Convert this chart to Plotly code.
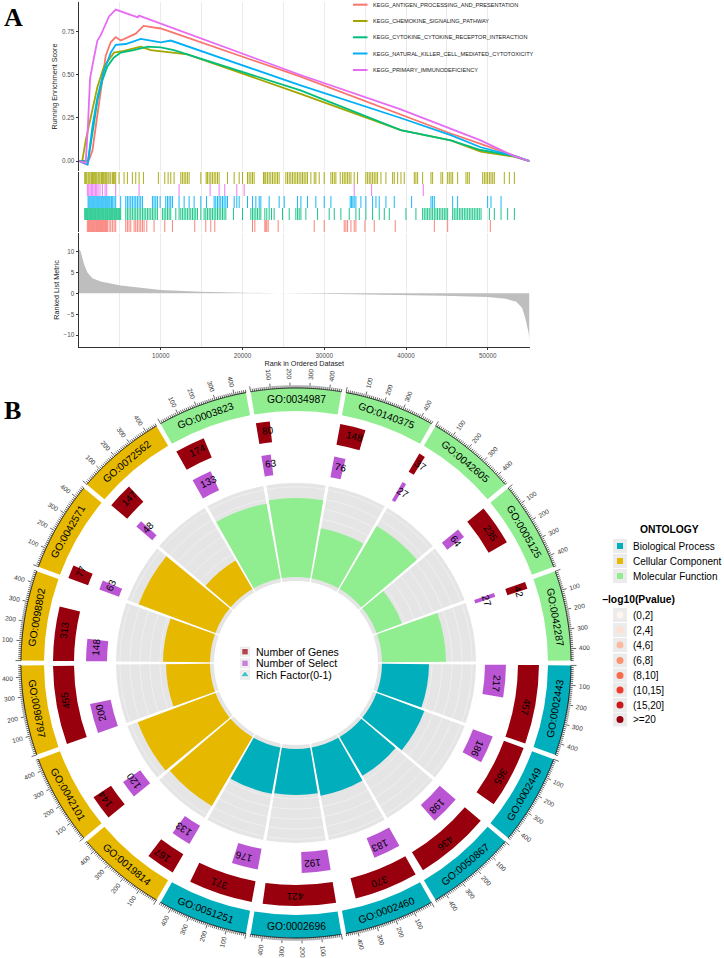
import numpy as np
import plotly.graph_objects as go

W, H = 724, 958
SANS = "Liberation Sans, Arial, Helvetica, sans-serif"
SERIF = "Liberation Serif, Times New Roman, serif"

# ======================= Panel A : GSEA data =======================
set_labels = ["KEGG_ANTIGEN_PROCESSING_AND_PRESENTATION",
              "KEGG_CHEMOKINE_SIGNALING_PATHWAY",
              "KEGG_CYTOKINE_CYTOKINE_RECEPTOR_INTERACTION",
              "KEGG_NATURAL_KILLER_CELL_MEDIATED_CYTOTOXICITY",
              "KEGG_PRIMARY_IMMUNODEFICIENCY"]
set_colors = ["#F8766D", "#A3A500", "#00BF7D", "#00B0F6", "#E76BF3"]

antigen_es_rank = [0, 1000, 1640, 2040, 2650, 3260, 3880, 4490, 5100, 6120, 6940, 7900, 8800, 10000,
                   27100, 39350, 45470, 49130, 53160, 55100]
antigen_es_value = [0, -0.02, 0.06, 0.20, 0.39, 0.61, 0.69, 0.72, 0.70, 0.72, 0.74, 0.785, 0.78, 0.77,
                    0.49, 0.27, 0.16, 0.10, 0.03, 0.0]
chemokine_es_rank = [0, 400, 820, 1430, 2250, 3060, 4280, 5500, 7550, 8770, 13260, 27100, 39350, 45470,
                     49130, 53160, 55100]
chemokine_es_value = [0, 0.0, 0.12, 0.26, 0.43, 0.55, 0.63, 0.64, 0.665, 0.645, 0.62, 0.39, 0.18, 0.12,
                      0.055, 0.025, 0.0]
cytokine_es_rank = [0, 1100, 1640, 2250, 2860, 3470, 4240, 5100, 6700, 8400, 10000, 11600, 27100, 39350,
                    45470, 49130, 53160, 55100]
cytokine_es_value = [0, 0.0, 0.16, 0.35, 0.47, 0.55, 0.60, 0.63, 0.645, 0.665, 0.66, 0.645, 0.41, 0.18,
                     0.12, 0.064, 0.03, 0.0]
nk_es_rank = [0, 1060, 1640, 2250, 3020, 3880, 4490, 5720, 7550, 10000, 11220, 27100, 39350, 45470,
              49130, 53160, 55100]
nk_es_value = [0, -0.02, 0.20, 0.37, 0.52, 0.63, 0.675, 0.68, 0.71, 0.69, 0.70, 0.44, 0.25, 0.15,
               0.08, 0.03, 0.0]
primary_es_rank = [0, 820, 1100, 1350, 1830, 2250, 2650, 3260, 3670, 4490, 7200, 7340, 27100, 39350,
                   49130, 53160, 55100]
primary_es_value = [0, -0.01, 0.21, 0.48, 0.60, 0.70, 0.73, 0.79, 0.84, 0.88, 0.835, 0.845, 0.50, 0.30,
                    0.12, 0.03, 0.0]

hits_antigen = [1020, 1150, 1270, 1390, 1510, 1640, 1760, 1880, 2000, 2130, 2250, 2370, 2490, 2620, 2740,
                2860, 2980, 3100, 3230, 3350, 3470, 3680, 3880, 4080, 4290, 4490, 5720, 5920, 6120, 6330,
                6740, 6940, 7140, 7350, 7550, 7760, 7960, 8290, 9180, 10490, 11430, 14160, 15510, 16120,
                16610, 21220, 21510, 22730, 22850, 22970, 23140, 24360, 28770, 29990, 32440, 32640, 32850,
                33260, 33660, 33870, 34970, 36110, 38680, 43460, 45090, 50310]
hits_chemokine = [700, 820, 940, 1110, 1230, 1350, 1510, 1640, 1760, 1920, 2040, 2170, 2330, 2450, 2570,
                  2740, 2860, 2980, 3150, 3270, 3390, 3550, 3680, 3880, 4080, 4210, 4370, 4490, 4900, 5510,
                  5920, 6530, 6940, 7350, 7880, 9710, 10490, 10900, 11220, 11630, 12450, 12650, 12860,
                  13060, 13260, 13470, 14900, 15550, 15710, 15920, 16120, 16320, 16530, 16730, 16940,
                  17140, 18160, 18980, 19590, 20000, 20610, 20810, 21020, 21220, 21420, 22570, 22730,
                  22850, 23060, 23260, 23460, 23670, 23870, 24080, 24280, 24480, 25300, 25500, 25710,
                  25910, 26120, 26320, 26520, 26730, 26930, 27140, 27340, 27540, 27750, 27950, 28360,
                  28770, 28970, 29380, 29990, 30810, 31010, 31220, 31420, 31950, 32240, 32440, 32640,
                  32850, 33050, 33260, 33660, 34070, 35090, 35300, 35500, 35700, 35910, 36110, 36320,
                  36520, 36930, 37540, 38360, 38560, 38970, 39380, 39780, 41010, 41210, 41420, 42030,
                  43050, 43250, 44270, 44480, 45090, 45290, 45500, 45700, 46310, 47330, 47540, 47740,
                  49370, 49580, 49780, 49980, 50190, 50390, 50600, 50800, 52020, 52640, 53250]
hits_cytokine = [700, 820, 940, 1060, 1190, 1310, 1430, 1550, 1680, 1800, 1920, 2040, 2170, 2290, 2410,
                 2530, 2660, 2780, 2900, 3020, 3150, 3270, 3390, 3510, 3640, 3760, 3880, 4000, 4120, 4250,
                 4370, 4490, 4610, 4740, 4860, 4980, 5100, 5720, 5920, 6120, 6330, 6530, 6740, 6940, 7140,
                 7350, 7550, 7760, 7960, 8160, 8370, 8570, 8780, 8980, 9180, 9390, 9590, 10200, 10410,
                 10610, 10820, 11020, 11220, 11840, 12240, 12450, 12650, 12860, 13060, 13260, 13470,
                 13670, 13880, 14080, 14280, 14490, 14900, 15300, 15510, 15710, 15920, 16120, 16320,
                 16530, 16730, 16940, 17140, 17340, 17550, 17750, 17960, 18890, 20000, 21020, 21220,
                 21420, 21630, 21830, 22040, 22240, 22730, 22970, 23260, 23550, 23870, 24890, 25710,
                 26520, 26730, 26930, 27140, 27750, 29180, 30600, 31220, 32030, 33050, 33870, 34280,
                 35090, 35910, 36720, 37340, 37950, 39990, 41210, 42030, 42230, 42440, 42640, 42840,
                 43050, 43250, 43460, 43660, 43860, 44070, 44270, 44480, 44680, 44880, 45090, 45700,
                 45900, 46110, 46310, 46520, 46720, 46920, 47130, 47330, 47540, 47740, 47940, 48150,
                 48350, 48560, 48760, 48960, 49170, 50190, 50800, 51620, 52430, 53250]
hits_nk = [1110, 1230, 1350, 1470, 1600, 1720, 1840, 1960, 2090, 2210, 2330, 2450, 2570, 2700, 2820, 2940,
           3060, 3190, 3310, 3430, 3550, 3680, 3800, 3960, 4120, 4290, 4490, 5100, 5720, 5920, 6120, 6330,
           6530, 6740, 6940, 7140, 7350, 7550, 7760, 8980, 9180, 9390, 9590, 9920, 10610, 10820, 11020,
           11220, 11430, 12240, 12860, 13470, 14080, 14900, 15590, 16530, 16730, 16940, 17140, 17340,
           17550, 17750, 17960, 18160, 18980, 19300, 19590, 20610, 21220, 21630, 22040, 22240, 23260,
           24480, 25100, 26730, 27140, 27950, 28970, 29990, 30810, 33170, 33340, 33500, 33660, 33870,
           34480, 35090, 35910, 36320, 36720, 37540, 38560, 40680, 43050, 43250, 43460, 45700, 46310,
           49980, 50390, 51620]
hits_primary = [1020, 1190, 1350, 1510, 1680, 1840, 2000, 2170, 2330, 2570, 2860, 3190, 3390, 4490, 7350,
                12240, 16040, 17140, 17830, 19300, 20200, 33660, 35790, 42110]

metric_rank = [1, 200, 610, 1030, 1640, 2650, 5100, 10000, 14900, 19800, 24300, 29550, 38500, 44600,
               50000, 52200, 53500, 54200, 54600, 55000, 55100]
metric_value = [10.6, 10.0, 7.0, 5.0, 3.6, 2.8, 1.9, 0.8, 0.4, 0.15, 0.0, -0.12, -0.35, -0.6,
                -0.9, -1.3, -2.0, -3.5, -6.0, -9.5, -11.5]
rank_ticks = [10000, 20000, 30000, 40000, 50000]
es_ticks = [0, 0.25, 0.5, 0.75]
metric_ticks = [-10, -5, 0, 5, 10]

# ======================= Panel B : GO circle data =======================
go_terms = ["GO:0002443", "GO:0002449", "GO:0050867", "GO:0002460", "GO:0002696", "GO:0051251",
            "GO:0019814", "GO:0042101", "GO:0098797", "GO:0098802", "GO:0042571", "GO:0072562",
            "GO:0003823", "GO:0034987", "GO:0140375", "GO:0042605", "GO:0005125", "GO:0042287"]
go_ontology = ["Biological Process"] * 6 + ["Cellular Component"] * 6 + ["Molecular Function"] * 6
go_genes = [457, 365, 436, 370, 421, 371, 167, 144, 455, 313, 77, 147, 174, 80, 148, 37, 235, 42]
go_select = [217, 186, 198, 183, 192, 176, 133, 120, 200, 148, 63, 48, 133, 63, 76, 27, 64, 27]
go_rich = [0.47, 0.51, 0.45, 0.49, 0.46, 0.47, 0.80, 0.83, 0.44, 0.47, 0.82, 0.33,
           0.76, 0.79, 0.51, 0.73, 0.27, 0.64]
go_pclass = [">=20"] * 18
ontology_levels = ["Biological Process", "Cellular Component", "Molecular Function"]
ontology_colors = ["#00AFBB", "#E7B800", "#90EE90"]
pvalue_levels = ["(0,2]", "(2,4]", "(4,6]", "(6,8]", "(8,10]", "(10,15]", "(15,20]", ">=20"]
pvalue_colors = ["#FFF5F0", "#FEE0D2", "#FCBBA1", "#FC9272", "#FB6A4A", "#EF3B2C", "#CB181D", "#99000D"]
axis_major = [100, 200, 300, 400]
rich_grid = [0.1, 0.2, 0.3, 0.4, 0.5, 0.6, 0.7, 0.8, 0.9]
center_legend = ["Number of Genes", "Number of Select", "Rich Factor(0-1)"]

# ======================= helpers =======================
def px(x):
    return x / W


def py(y):
    return 1 - y / H


fig = go.Figure()
annotations = []
shapes = []

# ======================= Panel A drawing =======================
XMAX = 55100
XDOM = [px(79), px(529.5)]
es_series = [(antigen_es_rank, antigen_es_value), (chemokine_es_rank, chemokine_es_value),
             (cytokine_es_rank, cytokine_es_value), (nk_es_rank, nk_es_value),
             (primary_es_rank, primary_es_value)]
for (rk, val), col in zip(es_series, set_colors):
    fig.add_trace(go.Scatter(x=rk, y=val, mode="lines", line=dict(color=col, width=1.8),
                             xaxis="x", yaxis="y", showlegend=False, hoverinfo="skip"))

hit_sets = [hits_antigen, hits_chemokine, hits_cytokine, hits_nk, hits_primary]
hit_slot = [0, 4, 1, 2, 3]
for hits, col, slot in zip(hit_sets, set_colors, hit_slot):
    xs, ys = [], []
    for h in hits:
        xs += [h, h, None]
        ys += [slot, slot + 1, None]
    fig.add_trace(go.Scatter(x=xs, y=ys, mode="lines", line=dict(color=col, width=0.9),
                             xaxis="x2", yaxis="y2", showlegend=False, hoverinfo="skip"))

fig.add_trace(go.Scatter(x=metric_rank, y=metric_value, mode="lines", fill="tozeroy",
                         fillcolor="#BEBEBE", line=dict(color="#BEBEBE", width=0),
                         xaxis="x3", yaxis="y3", showlegend=False, hoverinfo="skip"))

grid = dict(showgrid=True, gridcolor="#EBEBEB", gridwidth=0.8, zeroline=False)
axis_line = dict(showline=True, linecolor="#333333", linewidth=0.9)
tickfont = dict(size=6.3, color="#4D4D4D", family=SANS)

layout_axes = dict(
    xaxis=dict(domain=XDOM, range=[0, XMAX], anchor="y", showticklabels=False, ticks="",
               dtick=5000, tick0=0, showline=False, **grid),
    yaxis=dict(domain=[py(171), py(2)], range=[-0.058, 0.924], anchor="x", tickmode="array",
               tickvals=es_ticks, ticktext=["%.2f" % v for v in es_ticks], ticks="outside",
               ticklen=2.5, tickwidth=0.7, tickcolor="#333333", showgrid=False, zeroline=False,
               tickfont=tickfont, **axis_line,
               title=dict(text="Running Enrichment Score", standoff=3,
                          font=dict(size=7.2, color="#1A1A1A", family=SANS))),
    xaxis2=dict(domain=XDOM, range=[0, XMAX], anchor="y2", showticklabels=False, ticks="",
                dtick=5000, tick0=0, showline=False, **grid),
    yaxis2=dict(domain=[py(232), py(172)], range=[0, 5], anchor="x2", showticklabels=False,
                ticks="", showgrid=False, zeroline=False, **axis_line),
    xaxis3=dict(domain=XDOM, range=[0, XMAX], anchor="y3", tickmode="array", tickvals=rank_ticks,
                ticktext=[str(v) for v in rank_ticks], ticks="outside", ticklen=2.5, tickwidth=0.7,
                tickcolor="#333333", tickfont=tickfont, **axis_line, **grid,
                minor=dict(tickvals=[5000, 15000, 25000, 35000, 45000, 55000], showgrid=True,
                           gridcolor="#EBEBEB", gridwidth=0.8, ticks=""),
                title=dict(text="Rank in Ordered Dataset", standoff=1,
                           font=dict(size=7.2, color="#1A1A1A", family=SANS))),
    yaxis3=dict(domain=[py(347), py(233)], range=[-12.8, 14.4], anchor="x3", tickmode="array",
                tickvals=metric_ticks, ticktext=[str(v).replace("-", "\u2212") for v in metric_ticks],
                ticks="outside", ticklen=2.5, tickwidth=0.7, tickcolor="#333333", showgrid=False,
                zeroline=False, tickfont=tickfont, **axis_line,
                title=dict(text="Ranked List Metric", standoff=3,
                           font=dict(size=7.2, color="#1A1A1A", family=SANS))),
)

# legend inside ES panel
leg_rows = [4.7, 21, 37.3, 53.5, 70]
for lab, col, yy in zip(set_labels, set_colors, leg_rows):
    shapes.append(dict(type="line", xref="paper", yref="paper", x0=px(353), x1=px(367.5),
                       y0=py(yy), y1=py(yy), line=dict(color=col, width=2)))
    annotations.append(dict(text=lab, xref="paper", yref="paper", x=px(370.5), y=py(yy),
                            xanchor="left", yanchor="middle", showarrow=False,
                            font=dict(size=5.6, color="#1A1A1A", family=SANS)))

annotations.append(dict(text="<b>A</b>", xref="paper", yref="paper", x=px(2), y=py(18),
                        xanchor="left", yanchor="middle", showarrow=False,
                        font=dict(size=26, color="black", family=SERIF)))
annotations.append(dict(text="<b>B</b>", xref="paper", yref="paper", x=px(2), y=py(410),
                        xanchor="left", yanchor="middle", showarrow=False,
                        font=dict(size=26, color="black", family=SERIF)))

# ======================= Panel B drawing =======================
CX, CY, RMAX = 296, 663, 292
N = len(go_terms)
SECTOR = 360.0 / N
START0 = 90.0
GAP = 1.0
SPAN = SECTOR - GAP
XLIM = 460.0
K = SPAN / XLIM
R_BAND = (252, 275)
R_GENE = (222, 243)
R_SEL = (189, 210)
R_BG = (82, 180)
R_BAR0 = 86
RF_UNIT = 100

onto_col = dict(zip(ontology_levels, ontology_colors))
p_col = dict(zip(pvalue_levels, pvalue_colors))
centers = [START0 + i * SECTOR + SECTOR / 2 for i in range(N)]
starts = [c - SPAN / 2 for c in centers]


def norm(a):
    return (a + 180) % 360 - 180


def pol(r, th):
    t = np.radians(th)
    return r * np.sin(t), r * np.cos(t)


# rich-factor track background
fig.add_trace(go.Barpolar(theta=centers, width=[SPAN] * N, base=[R_BG[0]] * N,
                          r=[R_BG[1] - R_BG[0]] * N, marker=dict(color="#E5E5E5", line=dict(width=0)),
                          subplot="polar", showlegend=False, hoverinfo="skip"))
# rich factor bars
fig.add_trace(go.Barpolar(theta=centers, width=[SPAN] * N, base=[R_BAR0] * N,
                          r=[v * RF_UNIT for v in go_rich],
                          marker=dict(color=[onto_col[o] for o in go_ontology], line=dict(width=0)),
                          subplot="polar", showlegend=False, hoverinfo="skip"))
# faint grid circles visible in the empty part of the track
g_r, g_t = [], []
for s, rf in zip(starts, go_rich):
    for g in rich_grid:
        if g <= rf + 0.02:
            continue
        for a in np.linspace(s, s + SPAN, 25):
            g_r.append(R_BAR0 + g * RF_UNIT)
            g_t.append(a)
        g_r.append(None)
        g_t.append(None)
fig.add_trace(go.Scatterpolar(r=g_r, theta=g_t, mode="lines", line=dict(color="#F4F4F4", width=0.7),
                              subplot="polar", showlegend=False, hoverinfo="skip"))
# number of select
fig.add_trace(go.Barpolar(theta=[s + v * K / 2 for s, v in zip(starts, go_select)],
                          width=[v * K for v in go_select], base=[R_SEL[0]] * N,
                          r=[R_SEL[1] - R_SEL[0]] * N,
                          marker=dict(color="#BA55D3", line=dict(width=0)),
                          subplot="polar", showlegend=False, hoverinfo="skip"))
# number of genes
fig.add_trace(go.Barpolar(theta=[s + v * K / 2 for s, v in zip(starts, go_genes)],
                          width=[v * K for v in go_genes], base=[R_GENE[0]] * N,
                          r=[R_GENE[1] - R_GENE[0]] * N,
                          marker=dict(color=[p_col[p] for p in go_pclass], line=dict(width=0)),
                          subplot="polar", showlegend=False, hoverinfo="skip"))
# ontology band
fig.add_trace(go.Barpolar(theta=centers, width=[SPAN] * N, base=[R_BAND[0]] * N,
                          r=[R_BAND[1] - R_BAND[0]] * N,
                          marker=dict(color=[onto_col[o] for o in go_ontology], line=dict(width=0)),
                          subplot="polar", showlegend=False, hoverinfo="skip"))

# axis arcs and ticks
arc_r, arc_t, tk_r, tk_t = [], [], [], []
for s in starts:
    for v in np.arange(0, XLIM + 0.1, 5):
        arc_r.append(R_BAND[1])
        arc_t.append(s + v * K)
    arc_r.append(None)
    arc_t.append(None)
    for v in range(0, int(XLIM) + 1, 10):
        L = 5.5 if v % 100 == 0 else 2.8
        tk_r += [R_BAND[1], R_BAND[1] + L, None]
        tk_t += [s + v * K, s + v * K, None]
fig.add_trace(go.Scatterpolar(r=arc_r, theta=arc_t, mode="lines", line=dict(color="black", width=0.8),
                              subplot="polar", showlegend=False, hoverinfo="skip"))
fig.add_trace(go.Scatterpolar(r=tk_r, theta=tk_t, mode="lines", line=dict(color="black", width=0.6),
                              subplot="polar", showlegend=False, hoverinfo="skip"))

TXT = dict(xref="x4", yref="y4", showarrow=False, xanchor="center", yanchor="middle")
for i in range(N):
    c, s = centers[i], starts[i]
    # GO labels on band
    x, y = pol((R_BAND[0] + R_BAND[1]) / 2, c)
    ang = c - 180 if 90 < c < 270 else c
    annotations.append(dict(text=go_terms[i], x=x, y=y, textangle=norm(ang),
                            font=dict(size=10.3, color="black", family=SANS), **TXT))
    # gene / select numbers
    for val, rr in ((go_genes[i], R_GENE), (go_select[i], R_SEL)):
        th = s + val * K / 2 + 1.0
        x, y = pol((rr[0] + rr[1]) / 2 + 1.5, th)
        annotations.append(dict(text=str(val), x=x, y=y, textangle=norm(th),
                                font=dict(size=10, color="black", family=SANS), **TXT))
    # tick labels
    for v in axis_major:
        th = s + v * K
        x, y = pol(R_BAND[1] + 14, th)
        ta = th - 90 if th % 360 <= 180 else th - 270
        annotations.append(dict(text=str(v), x=x, y=y, textangle=norm(ta),
                                font=dict(size=6.5, color="#333333", family=SANS), **TXT))

# centre legend
leg_y = [11.3, -0.3, -11.8]
fig.add_trace(go.Scatter(x=[-51] * 3, y=leg_y, mode="markers", xaxis="x4", yaxis="y4",
                         marker=dict(symbol="square", size=10, color="#EBEBEB"),
                         showlegend=False, hoverinfo="skip"))
fig.add_trace(go.Scatter(x=[-51] * 3, y=leg_y, mode="markers", xaxis="x4", yaxis="y4",
                         marker=dict(symbol=["square", "square", "triangle-up"], size=[6.5, 6.5, 8],
                                     color=["#99000D", "#BA55D3", "#00AFBB"]),
                         showlegend=False, hoverinfo="skip"))
for lab, yy in zip(center_legend, leg_y):
    annotations.append(dict(text=lab, x=-42.5, y=yy, xref="x4", yref="y4", showarrow=False,
                            xanchor="left", yanchor="middle",
                            font=dict(size=10.5, color="black", family=SANS)))

# right-hand legends
annotations.append(dict(text="<b>ONTOLOGY</b>", xref="paper", yref="paper", x=px(638), y=py(529),
                        xanchor="left", yanchor="middle", showarrow=False,
                        font=dict(size=10.3, color="black", family=SANS)))
for lab, col, yy in zip(ontology_levels, ontology_colors, [546, 561, 576]):
    shapes.append(dict(type="rect", xref="paper", yref="paper", x0=px(613), x1=px(627),
                       y0=py(yy - 7), y1=py(yy + 7), fillcolor="#EBEBEB", line=dict(width=0)))
    shapes.append(dict(type="rect", xref="paper", yref="paper", x0=px(617), x1=px(623),
                       y0=py(yy - 3), y1=py(yy + 3), fillcolor=col, line=dict(width=0)))
    annotations.append(dict(text=lab, xref="paper", yref="paper", x=px(630.5), y=py(yy),
                            xanchor="left", yanchor="middle", showarrow=False,
                            font=dict(size=10, color="black", family=SANS)))
annotations.append(dict(text="<b>\u2212log10(Pvalue)</b>", xref="paper", yref="paper", x=px(600),
                        y=py(599), xanchor="left", yanchor="middle", showarrow=False,
                        font=dict(size=10.3, color="black", family=SANS)))
p_rows = [615, 630, 645, 660.5, 675.5, 690, 705, 719.5]
for lab, col, yy in zip(pvalue_levels, pvalue_colors, p_rows):
    shapes.append(dict(type="rect", xref="paper", yref="paper", x0=px(613), x1=px(627),
                       y0=py(yy - 7), y1=py(yy + 7), fillcolor="#EBEBEB", line=dict(width=0)))
    shapes.append(dict(type="circle", xref="paper", yref="paper", x0=px(616.5), x1=px(623.5),
                       y0=py(yy - 3.5), y1=py(yy + 3.5), fillcolor=col, line=dict(width=0)))
    annotations.append(dict(text=lab, xref="paper", yref="paper", x=px(630.5), y=py(yy),
                            xanchor="left", yanchor="middle", showarrow=False,
                            font=dict(size=10, color="black", family=SANS)))

PDOM_X = [px(CX - RMAX), px(CX + RMAX)]
PDOM_Y = [py(CY + RMAX), py(CY - RMAX)]
fig.update_layout(
    width=W, height=H, margin=dict(l=0, r=0, t=0, b=0),
    paper_bgcolor="white", plot_bgcolor="white",
    font=dict(family=SANS),
    showlegend=False,
    annotations=annotations, shapes=shapes,
    polar=dict(domain=dict(x=PDOM_X, y=PDOM_Y), bgcolor="rgba(0,0,0,0)", barmode="overlay", hole=0,
               angularaxis=dict(rotation=90, direction="clockwise", visible=False, showgrid=False,
                                showline=False, showticklabels=False, ticks=""),
               radialaxis=dict(range=[0, RMAX], visible=False, showgrid=False, showline=False,
                               showticklabels=False, ticks="")),
    xaxis4=dict(domain=PDOM_X, range=[-RMAX, RMAX], anchor="y4", visible=False, fixedrange=True),
    yaxis4=dict(domain=PDOM_Y, range=[-RMAX, RMAX], anchor="x4", visible=False, fixedrange=True),
    **layout_axes,
)

fig.write_html("out.html", config={"displayModeBar": False},
               post_script="document.body.style.margin='0';document.body.style.overflow='hidden';")
